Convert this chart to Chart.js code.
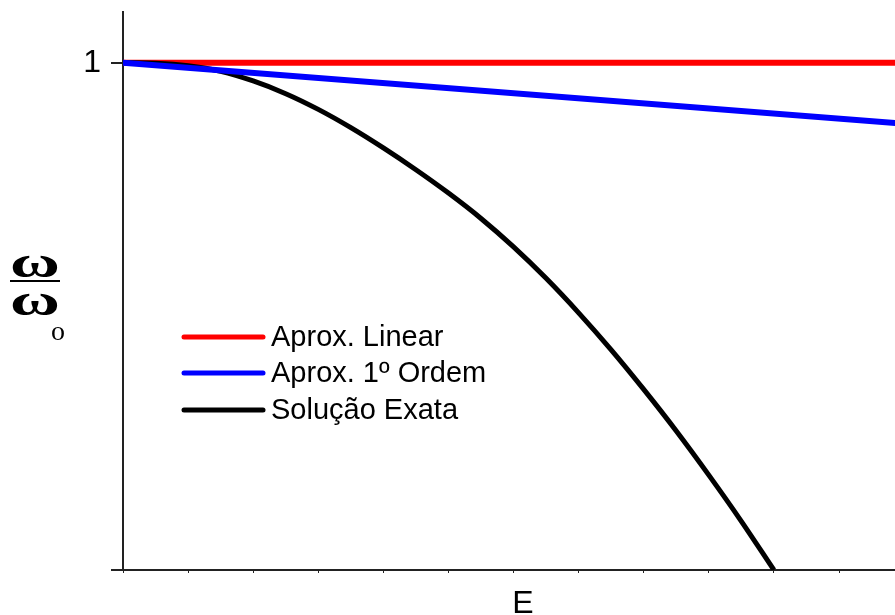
<!DOCTYPE html>
<html>
<head>
<meta charset="utf-8">
<script src="https://cdn.jsdelivr.net/npm/chart.js@4/dist/chart.umd.min.js"></script>
<style>
  html, body { margin: 0; padding: 0; background: #ffffff; }
  #wrap { width: 895px; height: 615px; }
</style>
</head>
<body>
<div id="wrap"><canvas id="c" width="895" height="615"></canvas></div>
<script>
// Energy values (horizontal axis) and frequency ratio ω/ω0 for each model
const energy       = [0, 0.5, 1, 1.5, 2, 2.5, 3, 3.5, 4, 4.5, 5, 5.5, 6, 6.5, 7, 7.5, 8, 8.5, 9, 9.5, 10];
const exactRatio   = [1, 0.999, 0.994, 0.983, 0.964, 0.939, 0.908, 0.872, 0.832, 0.789, 0.743, 0.693, 0.637, 0.575, 0.507, 0.434, 0.356, 0.274, 0.187, 0.096, 0];
const lineEnergy   = [0, 12];
const linearRatio  = [1, 1];
const firstOrder   = [1, 0.88];
const seriesLabels = ['Aprox. Linear', 'Aprox. 1º Ordem', 'Solução Exata'];
const yTickValues  = [1];
const xTickStep    = 1;

const pts = (xs, ys) => xs.map((x, i) => ({ x: x, y: ys[i] }));

// Extra drawing: axis stub, axis titles and the legend box
const decorations = {
  id: 'decorations',
  afterDraw(chart) {
    const ctx = chart.ctx;
    const area = chart.chartArea;
    ctx.save();
    // small extension of the energy axis to the left of the origin
    ctx.strokeStyle = '#222';
    ctx.lineWidth = 2;
    ctx.beginPath();
    ctx.moveTo(111, area.bottom);
    ctx.lineTo(area.left, area.bottom);
    ctx.stroke();

    // horizontal axis title
    ctx.fillStyle = '#000';
    ctx.font = '32px "Liberation Sans", Arial, sans-serif';
    ctx.textAlign = 'center';
    ctx.textBaseline = 'alphabetic';
    ctx.fillText('E', 523, 613);

    // vertical axis title: ω over ω with subscript o (wide omega)
    ctx.font = 'bold 44px "Liberation Serif", "Times New Roman", serif';
    const omega = (cx, base) => {
      ctx.save();
      ctx.translate(cx, base);
      ctx.scale(1.55, 1);
      ctx.fillText('ω', 0, 0);
      ctx.restore();
    };
    omega(35, 277);
    omega(35, 315);
    ctx.fillRect(10, 280, 50, 2);
    ctx.font = '28px "Liberation Serif", "Times New Roman", serif';
    ctx.fillText('o', 58, 340);

    // legend
    const rows = [337, 373, 410];
    ctx.font = '29px "Liberation Sans", Arial, sans-serif';
    ctx.textAlign = 'left';
    ctx.textBaseline = 'middle';
    ctx.lineCap = 'round';
    chart.data.datasets.forEach((ds, i) => {
      const y = rows[i];
      ctx.strokeStyle = ds.borderColor;
      ctx.lineWidth = 5;
      ctx.beginPath();
      ctx.moveTo(184, y);
      ctx.lineTo(263, y);
      ctx.stroke();
      ctx.fillStyle = '#000';
      ctx.fillText(ds.label, 271, y + 1);
    });
    ctx.restore();
  }
};

new Chart(document.getElementById('c'), {
  type: 'line',
  data: {
    datasets: [
      { label: seriesLabels[0], data: pts(lineEnergy, linearRatio), borderColor: '#ff0000', borderWidth: 6, pointRadius: 0, order: 3 },
      { label: seriesLabels[1], data: pts(lineEnergy, firstOrder),  borderColor: '#0000ff', borderWidth: 6, pointRadius: 0, order: 1 },
      { label: seriesLabels[2], data: pts(energy, exactRatio),      borderColor: '#000000', borderWidth: 5, pointRadius: 0, order: 2, cubicInterpolationMode: 'monotone' }
    ]
  },
  options: {
    responsive: false,
    animation: false,
    layout: { padding: { top: 12, right: 0, left: 0, bottom: 0 } },
    plugins: { legend: { display: false }, tooltip: { enabled: false } },
    scales: {
      x: {
        type: 'linear',
        min: 0,
        max: 11.86,
        ticks: { display: false, stepSize: xTickStep },
        grid: { drawOnChartArea: false, drawTicks: true, tickLength: 3, color: '#222', lineWidth: 1 },
        border: { display: true, color: '#222', width: 2 },
        afterFit(scale) { scale.height = 45; scale.paddingLeft = 0; scale.paddingRight = 0; }
      },
      y: {
        type: 'linear',
        min: 0,
        max: 1.1,
        afterBuildTicks(scale) { scale.ticks = yTickValues.map(v => ({ value: v })); },
        ticks: { padding: 10, color: '#000', font: { family: '"Liberation Sans", Arial, sans-serif', size: 32 } },
        grid: { drawOnChartArea: false, drawTicks: true, tickLength: 12, color: '#222', lineWidth: 2 },
        border: { display: true, color: '#222', width: 2 },
        afterFit(scale) { scale.width = 123; scale.paddingTop = 0; scale.paddingBottom = 0; }
      }
    }
  },
  plugins: [decorations]
});
</script>
</body>
</html>
